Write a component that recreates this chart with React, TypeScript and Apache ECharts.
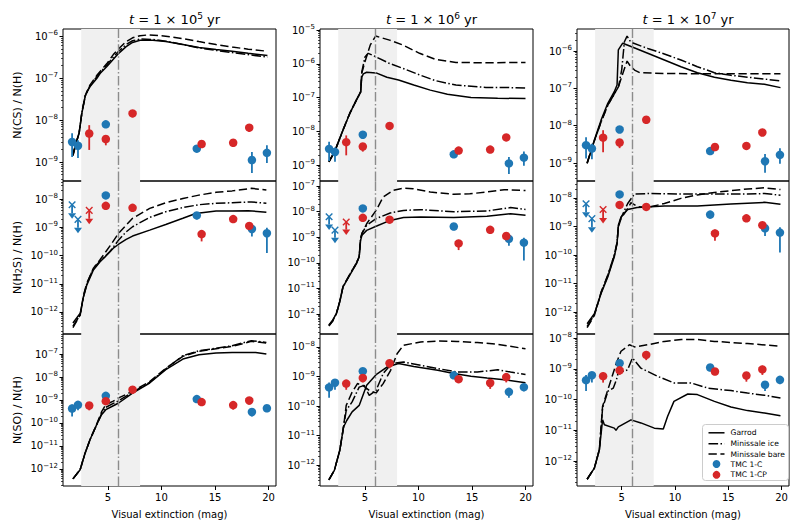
import { useEffect, useRef } from "react";
import * as echarts from "echarts";

// ---------- Observations (log10 N(X)/N(H)) ----------
const AV_TMC1C = [1.65, 2.2, 4.8, 13.3, 18.45, 19.85];
const AV_TMC1CP = [3.25, 4.8, 7.3, 13.75, 16.7, 18.2];

const CS_C = [-8.52, -8.61, -8.1, -8.68, -8.95, -8.78];
const CS_C_LO = [-8.88, -8.9, -8.15, -8.72, -9.26, -9.02];
const CS_C_HI = [-8.31, -8.48, -8.05, -8.64, -8.76, -8.6];
const CS_CP = [-8.32, -8.45, -7.84, -8.57, -8.54, -8.18];
const CS_CP_LO = [-8.71, -8.6, -7.93, -8.63, -8.58, -8.28];
const CS_CP_HI = [-8.12, -8.36, -7.78, -8.53, -8.5, -8.14];

const H2S_C = [-8.2, -8.72, -7.87, -8.58, -9.06, -9.21];
const H2S_C_UPPER = [1, 1, 0, 0, 0, 0];
const H2S_C_LO = [-8.2, -8.72, -7.92, -8.72, -9.33, -9.91];
const H2S_C_HI = [-8.2, -8.72, -7.83, -8.53, -8.98, -9.02];
const H2S_CP = [-8.4, -8.24, -8.31, -9.24, -8.71, -8.95];
const H2S_CP_UPPER = [1, 0, 0, 0, 0, 0];
const H2S_CP_LO = [-8.4, -8.3, -8.42, -9.5, -8.76, -9.0];
const H2S_CP_HI = [-8.4, -8.19, -8.24, -9.1, -8.67, -8.9];

const SO_C = [-9.37, -9.21, -8.82, -8.96, -9.52, -9.36];
const SO_C_LO = [-9.72, -9.45, -8.87, -9.0, -9.72, -9.5];
const SO_C_HI = [-9.2, -9.15, -8.78, -8.92, -9.45, -9.27];
const SO_CP = [-9.24, -9.05, -8.55, -9.09, -9.22, -9.02];
const SO_CP_LO = [-9.45, -9.2, -8.72, -9.2, -9.42, -9.2];
const SO_CP_HI = [-9.12, -8.98, -8.42, -9.02, -9.14, -8.9];

// ---------- Models: [Av, log10 abundance] ----------
const CS_T5_GARROD = [[1.73,-8.81],[2.0,-8.55],[2.31,-8.3],[2.56,-7.84],[2.87,-7.44],[3.02,-7.33],[3.33,-7.2],[3.95,-7.01],[4.26,-6.89],[4.88,-6.73],[5.5,-6.55],[6.0,-6.41],[6.7,-6.25],[7.3,-6.15],[8.0,-6.1],[9.2,-6.1],[10.4,-6.13],[12.0,-6.2],[13.5,-6.27],[15.1,-6.32],[16.6,-6.36],[18.1,-6.41],[19.9,-6.46]];
const CS_T5_ICE = [[1.73,-8.83],[2.0,-8.57],[2.31,-8.31],[2.56,-7.83],[2.87,-7.43],[3.33,-7.18],[3.95,-6.97],[4.88,-6.69],[5.5,-6.5],[6.0,-6.36],[6.7,-6.2],[7.3,-6.11],[8.0,-6.07],[9.2,-6.08],[10.4,-6.12],[12.0,-6.2],[13.5,-6.28],[15.1,-6.34],[16.6,-6.39],[18.1,-6.44],[19.9,-6.5]];
const CS_T5_BARE = [[1.73,-8.85],[2.0,-8.58],[2.31,-8.3],[2.56,-7.82],[2.87,-7.42],[3.33,-7.16],[3.95,-6.94],[4.88,-6.66],[5.5,-6.44],[6.0,-6.3],[6.7,-6.13],[7.3,-6.04],[8.0,-5.99],[8.8,-5.97],[10.4,-6.0],[12.0,-6.06],[13.5,-6.13],[15.1,-6.2],[16.6,-6.26],[18.1,-6.31],[19.9,-6.36]];

const CS_T6_GARROD = [[1.63,-8.9],[2.0,-8.7],[2.34,-8.46],[2.95,-7.96],[3.58,-7.47],[4.21,-7.07],[4.6,-6.83],[4.7,-6.4],[4.85,-6.3],[5.16,-6.25],[6.04,-6.27],[7.05,-6.4],[8.14,-6.48],[9.56,-6.63],[11.1,-6.78],[12.7,-6.9],[14.9,-7.0],[17.4,-7.02],[20.0,-7.03]];
const CS_T6_ICE = [[1.63,-8.9],[2.0,-8.7],[2.34,-8.46],[2.95,-7.96],[3.58,-7.47],[4.21,-7.07],[4.6,-6.83],[4.7,-6.25],[5.0,-5.8],[5.3,-5.69],[6.0,-5.79],[7.3,-5.99],[8.5,-6.13],[10.1,-6.33],[11.6,-6.5],[13.5,-6.63],[16.3,-6.7],[17.9,-6.7],[20.0,-6.72]];
const CS_T6_BARE = [[1.63,-8.9],[2.0,-8.7],[2.34,-8.46],[2.95,-7.96],[3.58,-7.47],[4.21,-7.07],[4.6,-6.83],[4.7,-6.28],[5.0,-5.94],[5.5,-5.44],[6.0,-5.18],[7.3,-5.3],[8.5,-5.44],[10.1,-5.69],[11.6,-5.87],[13.5,-5.96],[16.3,-5.97],[20.0,-5.96]];

const CS_T7_GARROD = [[1.75,-9.01],[2.43,-8.38],[3.06,-7.85],[3.69,-7.4],[4.3,-7.09],[4.56,-6.91],[4.68,-5.97],[5.09,-5.79],[5.87,-5.88],[7.44,-6.06],[9.0,-6.24],[10.56,-6.42],[12.1,-6.58],[13.7,-6.7],[15.25,-6.78],[16.8,-6.85],[18.4,-6.89],[19.9,-6.98]];
const CS_T7_ICE = [[1.75,-9.0],[2.43,-8.4],[3.06,-7.9],[3.69,-7.45],[4.3,-7.15],[4.7,-6.95],[5.0,-6.5],[5.25,-5.75],[5.5,-5.6],[5.75,-5.72],[6.0,-5.78],[7.44,-5.93],[9.0,-6.08],[10.56,-6.24],[12.1,-6.42],[13.7,-6.58],[15.25,-6.65],[16.8,-6.7],[18.4,-6.75],[19.9,-6.8]];
const CS_T7_BARE = [[1.75,-9.0],[2.43,-8.4],[3.06,-7.9],[3.69,-7.45],[4.3,-7.15],[4.7,-6.95],[5.1,-6.6],[5.5,-6.27],[5.8,-6.4],[6.2,-6.51],[6.7,-6.58],[9.0,-6.6],[12.0,-6.61],[19.9,-6.61]];

const H2S_T5_GARROD = [[1.73,-12.39],[2.41,-12.04],[2.72,-11.45],[3.03,-11.04],[3.64,-10.51],[4.26,-10.22],[4.8,-10.02],[5.5,-9.74],[6.0,-9.6],[6.7,-9.43],[7.3,-9.31],[8.9,-9.1],[10.4,-8.9],[12.0,-8.68],[13.2,-8.51],[15.1,-8.42],[16.6,-8.42],[18.1,-8.41],[19.8,-8.47]];
const H2S_T5_ICE = [[1.73,-12.5],[2.41,-12.1],[2.72,-11.45],[3.03,-11.0],[3.64,-10.45],[4.26,-10.2],[5.19,-9.86],[6.0,-9.45],[6.71,-9.16],[7.3,-8.98],[8.9,-8.65],[10.4,-8.45],[12.0,-8.3],[13.5,-8.2],[15.1,-8.15],[16.6,-8.13],[18.4,-8.1],[19.8,-8.15]];
const H2S_T5_BARE = [[1.73,-12.55],[2.41,-12.1],[2.72,-11.4],[3.03,-10.98],[3.64,-10.45],[4.26,-10.15],[5.19,-9.66],[6.0,-9.21],[6.71,-8.92],[7.3,-8.68],[8.9,-8.33],[10.4,-8.13],[12.0,-7.98],[13.5,-7.86],[15.1,-7.76],[16.6,-7.71],[18.4,-7.62],[19.8,-7.68]];

const H2S_T6_GARROD = [[1.63,-12.43],[2.0,-12.23],[2.34,-11.97],[2.65,-11.52],[2.95,-10.94],[3.58,-10.48],[4.21,-10.03],[4.46,-9.77],[4.59,-9.12],[4.72,-8.92],[5.16,-8.73],[6.04,-8.57],[7.36,-8.34],[8.6,-8.23],[10.2,-8.21],[13.3,-8.23],[16.4,-8.18],[18.6,-8.08],[20.0,-8.14]];
const H2S_T6_ICE = [[1.63,-12.45],[2.0,-12.25],[2.34,-11.97],[2.65,-11.5],[2.95,-10.94],[3.58,-10.46],[4.21,-10.0],[4.46,-9.75],[4.59,-9.05],[4.72,-8.85],[5.16,-8.53],[6.04,-8.27],[7.36,-8.05],[8.6,-7.95],[10.2,-7.92],[13.3,-8.0],[16.4,-7.97],[18.6,-7.84],[20.0,-7.91]];
const H2S_T6_BARE = [[1.63,-12.47],[2.0,-12.27],[2.34,-11.97],[2.65,-11.5],[2.95,-10.92],[3.58,-10.45],[4.21,-10.0],[4.46,-9.75],[4.59,-9.05],[4.72,-8.85],[5.16,-8.47],[6.04,-7.95],[6.7,-7.43],[7.6,-7.17],[8.6,-7.08],[9.5,-7.1],[11.1,-7.23],[13.3,-7.32],[14.8,-7.3],[16.4,-7.23],[18.0,-7.14],[20.0,-7.17]];

const H2S_T7_GARROD = [[1.75,-12.41],[2.43,-12.06],[3.06,-11.35],[3.69,-10.77],[4.3,-10.06],[4.56,-9.6],[4.68,-8.95],[4.93,-8.66],[5.56,-8.4],[6.44,-8.33],[9.0,-8.28],[12.1,-8.28],[15.25,-8.21],[18.4,-8.15],[19.9,-8.22]];
const H2S_T7_ICE = [[1.75,-12.5],[2.43,-12.1],[3.06,-11.3],[3.69,-10.7],[4.3,-10.0],[4.56,-9.55],[4.68,-9.0],[4.93,-8.7],[5.56,-8.19],[6.19,-7.86],[7.44,-7.84],[10.56,-7.86],[13.7,-7.86],[16.8,-7.86],[18.4,-7.84],[19.9,-7.9]];
const H2S_T7_BARE = [[1.75,-12.55],[2.43,-12.12],[3.06,-11.32],[3.69,-10.72],[4.3,-10.02],[4.56,-9.57],[4.68,-9.02],[4.93,-8.72],[5.56,-8.36],[5.87,-8.16],[6.5,-8.3],[7.44,-8.33],[9.0,-8.19],[10.56,-8.01],[12.1,-7.89],[13.7,-7.8],[15.25,-7.74],[16.8,-7.68],[18.4,-7.64],[19.9,-7.7]];

const SO_T5_GARROD = [[1.73,-12.43],[2.4,-12.03],[2.87,-11.3],[3.33,-10.72],[3.95,-10.07],[4.4,-9.64],[4.8,-9.42],[5.5,-9.25],[6.0,-9.13],[7.3,-8.7],[8.9,-8.26],[10.4,-7.68],[12.0,-7.22],[13.5,-7.03],[15.1,-6.96],[16.6,-6.93],[18.1,-6.93],[18.8,-6.93],[19.8,-7.0]];
const SO_T5_ICE = [[1.73,-12.43],[2.4,-12.03],[2.87,-11.3],[3.33,-10.72],[3.95,-10.07],[4.4,-9.6],[4.8,-9.32],[5.5,-9.15],[6.0,-9.03],[7.3,-8.66],[8.9,-8.23],[10.4,-7.65],[12.0,-7.07],[13.5,-6.86],[15.1,-6.75],[16.6,-6.64],[18.4,-6.42],[19.8,-6.5]];
const SO_T5_BARE = [[1.73,-12.43],[2.4,-12.03],[2.87,-11.3],[3.33,-10.72],[3.95,-10.05],[4.4,-9.52],[4.8,-9.2],[5.5,-9.05],[6.0,-8.91],[7.3,-8.62],[8.9,-8.2],[10.4,-7.62],[12.0,-7.1],[13.5,-6.88],[15.1,-6.77],[16.6,-6.67],[18.4,-6.45],[19.8,-6.52]];

const SO_T6_GARROD = [[1.63,-12.5],[2.14,-12.18],[2.65,-11.5],[3.0,-10.71],[3.3,-10.49],[3.8,-10.2],[4.46,-9.98],[5.16,-9.3],[6.04,-8.94],[7.05,-8.68],[8.14,-8.56],[9.56,-8.66],[11.8,-8.79],[13.3,-8.9],[14.9,-8.99],[16.4,-9.05],[18.0,-9.11],[20.0,-9.21]];
const SO_T6_ICE = [[1.63,-12.5],[2.14,-12.18],[2.65,-11.5],[3.0,-10.71],[3.25,-10.15],[3.8,-9.86],[4.46,-9.36],[4.93,-9.3],[5.4,-9.64],[6.04,-9.47],[6.7,-8.9],[7.5,-8.56],[8.6,-8.51],[10.2,-8.62],[11.8,-8.73],[13.6,-8.85],[15.5,-8.85],[17.4,-8.77],[18.6,-8.85],[20.0,-8.93]];
const SO_T6_BARE = [[1.63,-12.5],[2.14,-12.18],[2.65,-11.5],[3.0,-10.71],[3.25,-9.98],[3.8,-9.53],[4.3,-9.24],[4.8,-9.3],[5.4,-9.47],[6.04,-9.56],[6.7,-9.24],[7.4,-8.79],[8.0,-8.23],[8.6,-7.94],[10.2,-7.83],[11.8,-7.8],[13.6,-7.81],[15.5,-7.85],[17.4,-7.91],[20.0,-8.06]];

const SO_T7_GARROD = [[1.75,-12.59],[2.43,-12.23],[2.9,-11.63],[3.2,-10.66],[3.37,-10.82],[4.3,-10.93],[4.46,-11.0],[4.68,-10.89],[5.87,-10.66],[6.8,-10.76],[8.06,-10.93],[8.9,-10.96],[9.3,-10.55],[9.9,-10.06],[11.2,-9.82],[12.1,-9.84],[13.7,-10.06],[15.25,-10.24],[16.8,-10.36],[18.4,-10.44],[19.9,-10.53]];
const SO_T7_ICE = [[1.75,-12.59],[2.43,-12.23],[2.9,-11.63],[3.2,-10.28],[3.7,-9.73],[4.2,-9.63],[4.5,-9.36],[4.7,-9.08],[5.25,-9.08],[5.56,-9.03],[6.0,-8.65],[6.8,-8.98],[8.4,-9.25],[9.9,-9.46],[11.5,-9.46],[13.1,-9.63],[15.25,-9.71],[16.8,-9.79],[18.4,-9.86],[19.9,-9.95]];
const SO_T7_BARE = [[1.75,-12.59],[2.43,-12.23],[2.9,-11.63],[3.2,-10.22],[3.7,-9.68],[4.5,-8.81],[4.93,-8.43],[5.72,-8.22],[6.2,-8.29],[7.44,-8.22],[9.0,-8.11],[10.6,-8.05],[12.1,-8.05],[13.7,-8.11],[16.8,-8.18],[19.9,-8.27]];

// ---------- Labels / axes ----------
const TIME_EXPONENTS = [5, 6, 7];
const X_TICKS = [5, 10, 15, 20];
const X_RANGE = [0.8, 20.7];
const BAND = [2.5, 8];
const AV_LINE = 6;
const Y_RANGES = [
  [[-9.45, -5.83], [-9.47, -4.97], [-9.48, -5.41]],
  [[-12.78, -7.36], [-12.78, -6.8], [-12.77, -7.4]],
  [[-12.74, -6.13], [-12.71, -7.56], [-12.81, -7.87]],
];
const Y_NAMES = ["N(CS) / N(H)", "{a|N(H}{sub|2}{a|S) / N(H)}", "N(SO) / N(H)"];
const MODEL_NAMES = ["Garrod", "Minissale ice", "Minissale bare"];
const OBS_NAMES = ["TMC 1-C", "TMC 1-CP"];

const MODELS = [
  [[CS_T5_GARROD, CS_T5_ICE, CS_T5_BARE], [CS_T6_GARROD, CS_T6_ICE, CS_T6_BARE], [CS_T7_GARROD, CS_T7_ICE, CS_T7_BARE]],
  [[H2S_T5_GARROD, H2S_T5_ICE, H2S_T5_BARE], [H2S_T6_GARROD, H2S_T6_ICE, H2S_T6_BARE], [H2S_T7_GARROD, H2S_T7_ICE, H2S_T7_BARE]],
  [[SO_T5_GARROD, SO_T5_ICE, SO_T5_BARE], [SO_T6_GARROD, SO_T6_ICE, SO_T6_BARE], [SO_T7_GARROD, SO_T7_ICE, SO_T7_BARE]],
];
const OBS = [
  { c: [CS_C, CS_C_LO, CS_C_HI, null], cp: [CS_CP, CS_CP_LO, CS_CP_HI, null] },
  { c: [H2S_C, H2S_C_LO, H2S_C_HI, H2S_C_UPPER], cp: [H2S_CP, H2S_CP_LO, H2S_CP_HI, H2S_CP_UPPER] },
  { c: [SO_C, SO_C_LO, SO_C_HI, null], cp: [SO_CP, SO_CP_LO, SO_CP_HI, null] },
];

// ---------- Style / layout ----------
const FONT = "DejaVu Sans";
const BLUE = "#1f77b4";
const RED = "#d62728";
const COL_LEFT = [63, 320, 577];
const COL_W = [213, 213, 212];
const ROW_TOP = [29, 181, 334];
const ROW_H = [152, 153, 152];
const DASH = [8.3, 3.6];
const DASHDOT = [9.6, 2.4, 1.5, 2.4];
const LINE_TYPES: any[] = ["solid", DASHDOT, DASH];
const LIMIT_DEX = 0.3;

const errRender = (color: string) => (_p: any, api: any) => {
  const x = api.value(0);
  const a = api.coord([x, api.value(2)]);
  const b = api.coord([x, api.value(1)]);
  return { type: "line", shape: { x1: a[0], y1: a[1], x2: b[0], y2: b[1] }, style: { stroke: color, lineWidth: 1.8 } };
};

const limRender = (color: string) => (_p: any, api: any) => {
  const x = api.value(0);
  const v = api.value(1);
  const p = api.coord([x, v]);
  const q = api.coord([x, v - LIMIT_DEX]);
  const s = 3.3;
  return {
    type: "group",
    children: [
      { type: "line", shape: { x1: p[0] - s, y1: p[1] - s, x2: p[0] + s, y2: p[1] + s }, style: { stroke: color, lineWidth: 1.4 } },
      { type: "line", shape: { x1: p[0] - s, y1: p[1] + s, x2: p[0] + s, y2: p[1] - s }, style: { stroke: color, lineWidth: 1.4 } },
      { type: "line", shape: { x1: p[0], y1: p[1], x2: q[0], y2: q[1] }, style: { stroke: color, lineWidth: 1.8 } },
      { type: "polygon", shape: { points: [[q[0] - 4, q[1]], [q[0] + 4, q[1]], [q[0], q[1] + 5.5]] }, style: { fill: color } },
    ],
  };
};

const supFmt = (v: number) => `{b|10}{s|${v < 0 ? "\u2212" : ""}${Math.abs(Math.round(v))}}`;

function buildOption() {
  const grid: any[] = [];
  const xAxis: any[] = [];
  const yAxis: any[] = [];
  const series: any[] = [];
  const title: any[] = [];

  for (let c = 0; c < 3; c++) {
    title.push({
      text: `{i|t}{n| = 1 × 10}{s|${TIME_EXPONENTS[c]}}{n| yr}`,
      left: COL_LEFT[c] + COL_W[c] / 2,
      top: 6,
      textAlign: "center",
      textStyle: {
        fontWeight: "normal",
        rich: {
          i: { fontFamily: FONT, fontSize: 13, fontStyle: "italic", fontWeight: "normal", color: "#000", lineHeight: 17 },
          n: { fontFamily: FONT, fontSize: 13, fontWeight: "normal", color: "#000", lineHeight: 17 },
          s: { fontFamily: FONT, fontSize: 9, fontWeight: "normal", color: "#000", lineHeight: 9, verticalAlign: "top" },
        },
      },
    });
  }

  for (let r = 0; r < 3; r++) {
    for (let c = 0; c < 3; c++) {
      const gi = r * 3 + c;
      const [ymin, ymax] = Y_RANGES[r][c];
      grid.push({
        left: COL_LEFT[c], top: ROW_TOP[r], width: COL_W[c], height: ROW_H[r],
        show: true, borderColor: "#000", borderWidth: 1, backgroundColor: "transparent",
      });
      const bottom = r === 2;
      xAxis.push({
        type: "value", gridIndex: gi, min: X_RANGE[0], max: X_RANGE[1],
        axisLine: { show: false }, splitLine: { show: false },
        axisTick: { show: bottom, customValues: X_TICKS, length: 4, lineStyle: { color: "#000", width: 1 } },
        axisLabel: { show: bottom, customValues: X_TICKS, margin: 6, fontSize: 10, color: "#000", fontFamily: FONT },
        name: bottom ? "Visual extinction (mag)" : "",
        nameLocation: "middle", nameGap: 23,
        nameTextStyle: { fontSize: 10, color: "#000", fontFamily: FONT },
      });
      const majors: number[] = [];
      for (let e = Math.ceil(ymin); e <= Math.floor(ymax); e++) majors.push(e);
      const minors: number[] = [];
      for (let e = Math.floor(ymin); e <= Math.ceil(ymax); e++) {
        for (let k = 2; k <= 9; k++) {
          const v = e + Math.log10(k);
          if (v > ymin && v < ymax) minors.push(v);
        }
      }
      yAxis.push({
        type: "value", gridIndex: gi, min: ymin, max: ymax, position: "left",
        axisLine: { show: false }, splitLine: { show: false },
        axisTick: { show: true, customValues: majors, length: 3.5, lineStyle: { color: "#000", width: 1 } },
        axisLabel: {
          customValues: majors, margin: 5, formatter: supFmt,
          rich: {
            b: { fontFamily: FONT, fontSize: 10, color: "#000", lineHeight: 13 },
            s: { fontFamily: FONT, fontSize: 7, color: "#000", lineHeight: 7, verticalAlign: "top" },
          },
        },
        name: c === 0 ? Y_NAMES[r] : "",
        nameLocation: "middle", nameGap: 40, nameRotate: 90,
        nameTextStyle: {
          fontFamily: FONT, fontSize: 11, color: "#000",
          rich: {
            a: { fontFamily: FONT, fontSize: 11, color: "#000" },
            sub: { fontFamily: FONT, fontSize: 8, color: "#000", verticalAlign: "bottom", lineHeight: 8 },
          },
        },
      });
      yAxis.push({
        type: "value", gridIndex: gi, min: ymin, max: ymax, position: "left",
        axisLine: { show: false }, splitLine: { show: false },
        axisTick: { show: true, customValues: minors, length: 2, lineStyle: { color: "#000", width: 0.7 } },
        axisLabel: { show: false },
      });
      const yi = gi * 2;

      // shaded band + vertical line
      series.push({
        type: "line", xAxisIndex: gi, yAxisIndex: yi, data: [], z: 1, silent: true,
        markArea: { silent: true, itemStyle: { color: "#f0f0f0" }, data: [[{ xAxis: BAND[0] }, { xAxis: BAND[1] }]] },
        markLine: {
          silent: true, symbol: ["none", "none"], label: { show: false },
          lineStyle: { color: "#8c8c8c", width: 1.4, type: DASHDOT },
          data: [{ xAxis: AV_LINE }],
        },
      });

      // model curves
      MODELS[r][c].forEach((d, m) => {
        series.push({
          type: "line", name: MODEL_NAMES[m], xAxisIndex: gi, yAxisIndex: yi,
          data: d, showSymbol: false, symbol: "none", z: 3, silent: true,
          lineStyle: { color: "#000", width: 1.5, type: LINE_TYPES[m] },
        });
      });

      // observations
      const groups = [
        { av: AV_TMC1C, arr: OBS[r].c, color: BLUE, name: OBS_NAMES[0] },
        { av: AV_TMC1CP, arr: OBS[r].cp, color: RED, name: OBS_NAMES[1] },
      ];
      groups.forEach((g) => {
        const [val, lo, hi, upper] = g.arr as any[];
        const det: number[] = [];
        const lim: number[] = [];
        g.av.forEach((_a: number, i: number) => (upper && upper[i] ? lim.push(i) : det.push(i)));
        series.push({
          type: "custom", xAxisIndex: gi, yAxisIndex: yi, z: 4, silent: true,
          renderItem: errRender(g.color),
          encode: { x: 0, y: [1, 2] },
          data: det.map((i) => [g.av[i], lo[i], hi[i]]),
        });
        series.push({
          type: "scatter", name: g.name, xAxisIndex: gi, yAxisIndex: yi, z: 5, silent: true,
          symbol: "circle", symbolSize: 8.5, itemStyle: { color: g.color, opacity: 1 },
          data: det.map((i) => [g.av[i], val[i]]),
        });
        if (lim.length) {
          series.push({
            type: "custom", xAxisIndex: gi, yAxisIndex: yi, z: 5, silent: true,
            renderItem: limRender(g.color),
            encode: { x: 0, y: 1 },
            data: lim.map((i) => [g.av[i], val[i]]),
          });
        }
      });
    }
  }

  // legend (drawn in the lower-right panel)
  const lx = 702, ly = 424;
  const rows = [8.3, 19.3, 29.5, 39.5, 50.3];
  const legendChildren: any[] = [
    { type: "rect", shape: { x: 0, y: 0, width: 86, height: 56, r: 3 }, style: { fill: "rgba(255,255,255,0.8)", stroke: "#cccccc", lineWidth: 1 } },
  ];
  MODEL_NAMES.forEach((n, m) => {
    legendChildren.push({
      type: "line", shape: { x1: 6, y1: rows[m], x2: 22, y2: rows[m] },
      style: { stroke: "#000", lineWidth: 1.5, lineDash: m === 0 ? null : (LINE_TYPES[m] as number[]) },
    });
    legendChildren.push({ type: "text", x: 28, y: rows[m], style: { text: n, fill: "#000", fontSize: 7.6, fontFamily: FONT, verticalAlign: "middle" } });
  });
  OBS_NAMES.forEach((n, k) => {
    legendChildren.push({ type: "circle", shape: { cx: 14, cy: rows[3 + k], r: 3.9 }, style: { fill: k === 0 ? BLUE : RED } });
    legendChildren.push({ type: "text", x: 28, y: rows[3 + k], style: { text: n, fill: "#000", fontSize: 7.6, fontFamily: FONT, verticalAlign: "middle" } });
  });

  return {
    animation: false,
    backgroundColor: "#fff",
    textStyle: { fontFamily: FONT },
    title, grid, xAxis, yAxis, series,
    graphic: [{ type: "group", left: lx, top: ly, z: 100, children: legendChildren }],
  };
}

export default function App() {
  const ref = useRef<HTMLDivElement>(null);
  useEffect(() => {
    document.body.style.margin = "0";
    if (!ref.current) return;
    const chart = echarts.init(ref.current, null, { renderer: "svg" });
    chart.setOption(buildOption() as any);
    return () => chart.dispose();
  }, []);
  return <div ref={ref} style={{ width: 800, height: 529 }} />;
}
